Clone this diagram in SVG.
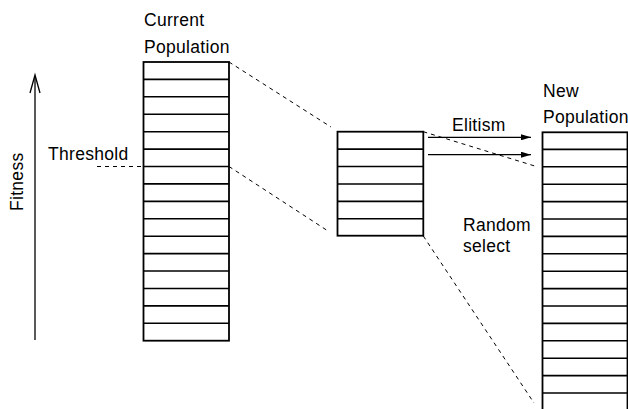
<svg xmlns="http://www.w3.org/2000/svg" width="628" height="409" viewBox="0 0 628 409">
  <style>
    .lbl { font-family: "Liberation Sans", Arial, sans-serif; font-size: 17.5px; letter-spacing: 0.3px; fill: #000; }
    .box { fill: #fff; stroke: #000; stroke-width: 1.8; }
    .row { stroke: #000; stroke-width: 1.6; }
    .dash { stroke: #000; stroke-width: 1; stroke-dasharray: 4 4; fill: none; }
    .solid { stroke: #000; stroke-width: 1.3; fill: none; }
  </style>
  <defs>
    <marker id="head" viewBox="0 0 10 6" refX="10" refY="3" markerWidth="10" markerHeight="6" markerUnits="userSpaceOnUse" orient="auto">
      <path d="M0,0 L10,3 L0,6 Z" fill="#000"/>
    </marker>
  </defs>
  <rect width="628" height="409" fill="#fff"/>

  <!-- fitness axis -->
  <g id="fitness-axis">
    <line class="solid" x1="35" y1="340" x2="35" y2="76"/>
    <polyline class="solid" points="30,93 35,75 40,93"/>
    <text class="lbl" transform="translate(23,211) rotate(-90)">Fitness</text>
  </g>

  <!-- current population: 16 ranked individuals -->
  <g id="current-population">
    <text class="lbl" x="144" y="26">Current</text>
    <text class="lbl" x="144" y="53">Population</text>
    <rect class="box" x="143.5" y="62" width="85.5" height="278.7"/>
    <g class="row">
      <line x1="143.5" y1="79.4" x2="229" y2="79.4"/>
      <line x1="143.5" y1="96.8" x2="229" y2="96.8"/>
      <line x1="143.5" y1="114.3" x2="229" y2="114.3"/>
      <line x1="143.5" y1="131.7" x2="229" y2="131.7"/>
      <line x1="143.5" y1="149.1" x2="229" y2="149.1"/>
      <line x1="143.5" y1="166.5" x2="229" y2="166.5"/>
      <line x1="143.5" y1="183.9" x2="229" y2="183.9"/>
      <line x1="143.5" y1="201.4" x2="229" y2="201.4"/>
      <line x1="143.5" y1="218.8" x2="229" y2="218.8"/>
      <line x1="143.5" y1="236.2" x2="229" y2="236.2"/>
      <line x1="143.5" y1="253.6" x2="229" y2="253.6"/>
      <line x1="143.5" y1="271" x2="229" y2="271"/>
      <line x1="143.5" y1="288.5" x2="229" y2="288.5"/>
      <line x1="143.5" y1="305.9" x2="229" y2="305.9"/>
      <line x1="143.5" y1="323.3" x2="229" y2="323.3"/>
    </g>
  </g>

  <!-- threshold marker -->
  <g id="threshold">
    <text class="lbl" x="48" y="160">Threshold</text>
  </g>

  <!-- selected pool: 6 individuals -->
  <g id="selected-pool">
    <rect class="box" x="337.5" y="131.7" width="85.8" height="104"/>
    <g class="row">
      <line x1="337.5" y1="149.1" x2="423.3" y2="149.1"/>
      <line x1="337.5" y1="166.5" x2="423.3" y2="166.5"/>
      <line x1="337.5" y1="184" x2="423.3" y2="184"/>
      <line x1="337.5" y1="201.4" x2="423.3" y2="201.4"/>
      <line x1="337.5" y1="218.8" x2="423.3" y2="218.8"/>
    </g>
  </g>

  <!-- new population: 16 individuals -->
  <g id="new-population">
    <text class="lbl" x="543" y="97">New</text>
    <text class="lbl" x="543" y="123">Population</text>
    <rect class="box" x="542.5" y="132.3" width="85" height="278.7"/>
    <g class="row">
      <line x1="542.5" y1="149.4" x2="627.5" y2="149.4"/>
      <line x1="542.5" y1="166.8" x2="627.5" y2="166.8"/>
      <line x1="542.5" y1="184.2" x2="627.5" y2="184.2"/>
      <line x1="542.5" y1="201.6" x2="627.5" y2="201.6"/>
      <line x1="542.5" y1="219" x2="627.5" y2="219"/>
      <line x1="542.5" y1="236.4" x2="627.5" y2="236.4"/>
      <line x1="542.5" y1="253.8" x2="627.5" y2="253.8"/>
      <line x1="542.5" y1="271.2" x2="627.5" y2="271.2"/>
      <line x1="542.5" y1="288.6" x2="627.5" y2="288.6"/>
      <line x1="542.5" y1="306" x2="627.5" y2="306"/>
      <line x1="542.5" y1="323.4" x2="627.5" y2="323.4"/>
      <line x1="542.5" y1="340.8" x2="627.5" y2="340.8"/>
      <line x1="542.5" y1="358.2" x2="627.5" y2="358.2"/>
      <line x1="542.5" y1="375.6" x2="627.5" y2="375.6"/>
      <line x1="542.5" y1="393" x2="627.5" y2="393"/>
    </g>
  </g>

  <!-- labels between pool and new population -->
  <g id="elitism">
    <text class="lbl" x="452" y="131">Elitism</text>
  </g>
  <g id="random-select">
    <text class="lbl" x="463" y="231">Random</text>
    <text class="lbl" x="463" y="252">select</text>
  </g>

  <!-- connectors -->
  <g id="connectors">
    <line class="dash" x1="97" y1="166.5" x2="143" y2="166.5"/>
    <line class="dash" x1="229" y1="62" x2="331" y2="127"/>
    <line class="dash" x1="229" y1="166.5" x2="328" y2="231"/>
    <line class="dash" x1="423.3" y1="131.7" x2="538" y2="167"/>
    <line class="dash" x1="423.3" y1="236" x2="534" y2="403"/>
    <line class="solid" x1="428" y1="137.3" x2="531" y2="137.3" marker-end="url(#head)"/>
    <line class="solid" x1="428" y1="154.7" x2="531" y2="154.7" marker-end="url(#head)"/>
  </g>
</svg>
